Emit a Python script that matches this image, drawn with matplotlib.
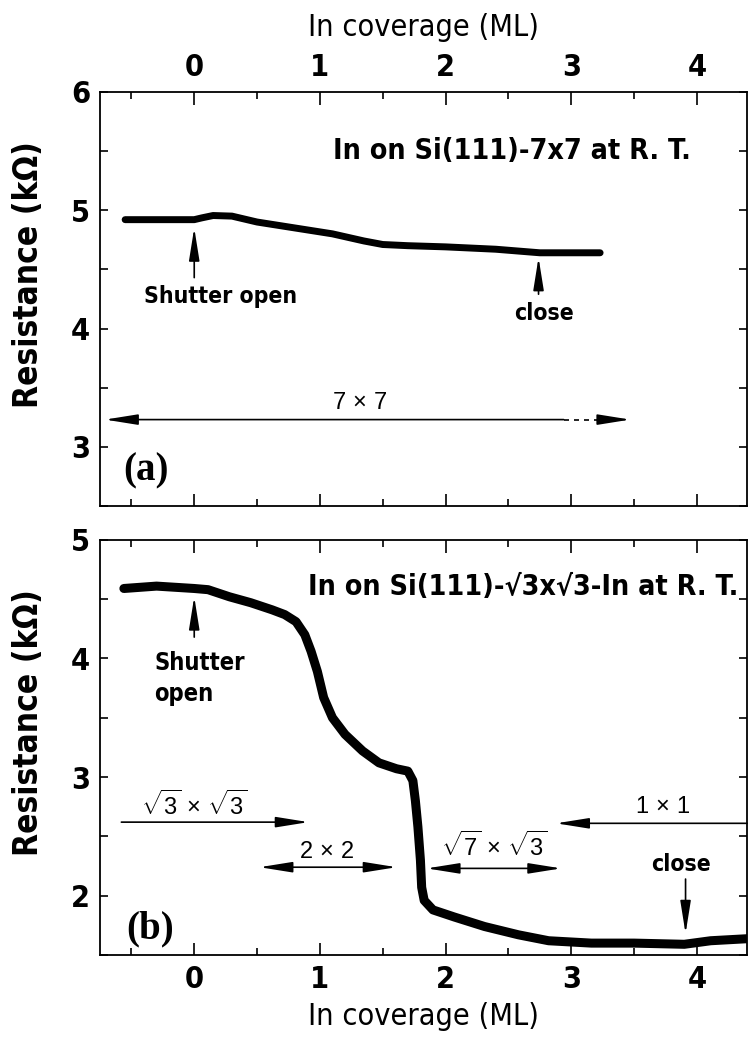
import matplotlib
matplotlib.use("Agg")
import matplotlib.pyplot as plt
from matplotlib.ticker import MultipleLocator

plt.rcParams['font.family'] = ['DejaVu Sans']
plt.rcParams['font.stretch'] = 'condensed'
plt.rcParams['mathtext.fontset'] = 'custom'
plt.rcParams['mathtext.rm'] = 'Liberation Sans'
plt.rcParams['mathtext.it'] = 'Liberation Sans'

# (a) In deposited on Si(111)-7x7
cov_a = [-0.55, -0.3, 0.0, 0.06, 0.15, 0.3, 0.5, 0.8, 1.1, 1.35, 1.5, 1.7,
         2.0, 2.4, 2.75, 3.0, 3.23]
res_a = [4.92, 4.92, 4.92, 4.935, 4.955, 4.95, 4.90, 4.85, 4.80, 4.74, 4.71,
         4.70, 4.69, 4.67, 4.64, 4.64, 4.64]

# (b) In deposited on Si(111)-sqrt3 x sqrt3-In
cov_b = [-0.56, -0.3, 0.0, 0.11, 0.28, 0.45, 0.62, 0.72, 0.81, 0.88, 0.93,
         0.98, 1.03, 1.10, 1.20, 1.34, 1.47, 1.61, 1.70, 1.74, 1.76, 1.78,
         1.80, 1.81, 1.83, 1.90, 2.07, 2.31, 2.58, 2.82, 3.16, 3.50, 3.90,
         4.11, 4.45]
res_b = [4.59, 4.61, 4.59, 4.58, 4.52, 4.47, 4.41, 4.37, 4.31, 4.20, 4.06,
         3.89, 3.67, 3.50, 3.36, 3.22, 3.12, 3.07, 3.05, 2.97, 2.80, 2.58,
         2.30, 2.07, 1.96, 1.88, 1.82, 1.74, 1.67, 1.62, 1.60, 1.60, 1.59,
         1.62, 1.64]

x_ticks = [0, 1, 2, 3, 4]
xlim = (-0.75, 4.40)

fig = plt.figure(figsize=(7.49, 10.43), dpi=100)
ax_a = fig.add_axes([0.1335, 0.5149, 0.864, 0.397])
ax_b = fig.add_axes([0.1335, 0.0844, 0.864, 0.398])


def style_axes(ax, ylim, yticks, top_labels):
    ax.set_xlim(*xlim)
    ax.set_ylim(*ylim)
    ax.set_xticks(x_ticks)
    ax.set_yticks(yticks)
    ax.xaxis.set_minor_locator(MultipleLocator(0.5))
    ax.yaxis.set_minor_locator(MultipleLocator(0.5))
    ax.tick_params(which='both', direction='in', top=True, right=True,
                   width=1.2, labelsize=22, pad=7)
    ax.tick_params(axis='x', which='major', length=9)
    ax.tick_params(axis='x', which='minor', length=5)
    ax.tick_params(axis='y', which='both', length=6)
    ax.tick_params(axis='x', labeltop=top_labels, labelbottom=not top_labels)
    for s in ax.spines.values():
        s.set_linewidth(1.3)
    for lbl in ax.get_xticklabels() + ax.get_yticklabels():
        lbl.set_fontweight('bold')
    ax.set_ylabel('Resistance (kΩ)', fontsize=24, fontweight='bold')
    ax.yaxis.set_label_coords(-0.085, 0.56)


def arrow(ax, x0, y0, x1, y1, style='-|>', **kw):
    ax.annotate('', xy=(x1, y1), xytext=(x0, y0),
                arrowprops=dict(arrowstyle=f'{style},head_length=2.0,head_width=0.32',
                                lw=1.2, color='black', shrinkA=0, shrinkB=0,
                                mutation_scale=10, **kw))


# ---- panel (a)
style_axes(ax_a, (2.5, 6.0), [3, 4, 5, 6], top_labels=True)
ax_a.xaxis.set_label_position('top')
ax_a.set_xlabel('In coverage (ML)', fontsize=22, labelpad=12)
ax_a.plot(cov_a, res_a, color='black', lw=5, solid_capstyle='round')

ax_a.text(3.95, 5.5, 'In on Si(111)-7x7 at R. T.', fontsize=20.5, fontweight='bold',
          ha='right', va='center')
ax_a.text(0.21, 4.27, 'Shutter open', fontsize=16.5, fontweight='bold', ha='center', va='center')
arrow(ax_a, 0.0, 4.43, 0.0, 4.85)
ax_a.text(2.78, 4.13, 'close', fontsize=16.5, fontweight='bold', ha='center', va='center')
arrow(ax_a, 2.74, 4.29, 2.74, 4.60)

# 7x7 range, dashed past the shutter close
arrow(ax_a, 2.94, 3.23, -0.71, 3.23)
ax_a.plot([2.94, 3.28], [3.23, 3.23], color='black', lw=1.2, ls=(0, (3, 3)))
arrow(ax_a, 3.28, 3.23, 3.47, 3.23)
ax_a.text(1.32, 3.38, r'$7\,\times\,7$', fontsize=17, ha='center', va='center')
ax_a.text(-0.38, 2.8, '(a)', fontsize=28, fontweight='bold', ha='center', va='center',
          family=['Liberation Serif', 'DejaVu Serif'])

# ---- panel (b)
style_axes(ax_b, (1.5, 5.0), [2, 3, 4, 5], top_labels=False)
ax_b.set_xlabel('In coverage (ML)', fontsize=22, labelpad=6)
ax_b.plot(cov_b, res_b, color='black', lw=6.5, solid_capstyle='round')

ax_b.text(4.33, 4.6, 'In on Si(111)-√3x√3-In at R. T.', fontsize=20.5, fontweight='bold',
          ha='right', va='center')
ax_b.text(-0.32, 3.96, 'Shutter', fontsize=17, fontweight='bold', ha='left', va='center')
ax_b.text(-0.32, 3.70, 'open', fontsize=17, fontweight='bold', ha='left', va='center')
arrow(ax_b, 0.0, 4.18, 0.0, 4.52)

arrow(ax_b, -0.58, 2.62, 0.91, 2.62)
ax_b.text(0.0, 2.76, r'$\sqrt{3}\,\times\,\sqrt{3}$', fontsize=17, ha='center', va='center')
arrow(ax_b, 0.52, 2.24, 1.61, 2.24, style='<|-|>')
ax_b.text(1.05, 2.38, r'$2\,\times\,2$', fontsize=17, ha='center', va='center')
arrow(ax_b, 1.85, 2.23, 2.92, 2.23, style='<|-|>')
ax_b.text(2.39, 2.42, r'$\sqrt{7}\,\times\,\sqrt{3}$', fontsize=17, ha='center', va='center')
arrow(ax_b, 4.40, 2.61, 2.88, 2.61)
ax_b.text(3.73, 2.76, r'$1\,\times\,1$', fontsize=17, ha='center', va='center')

ax_b.text(3.87, 2.26, 'close', fontsize=16.5, fontweight='bold', ha='center', va='center')
arrow(ax_b, 3.91, 2.14, 3.91, 1.68)
ax_b.text(-0.35, 1.72, '(b)', fontsize=28, fontweight='bold', ha='center', va='center',
          family=['Liberation Serif', 'DejaVu Serif'])

fig.savefig('out.png', dpi=100)
